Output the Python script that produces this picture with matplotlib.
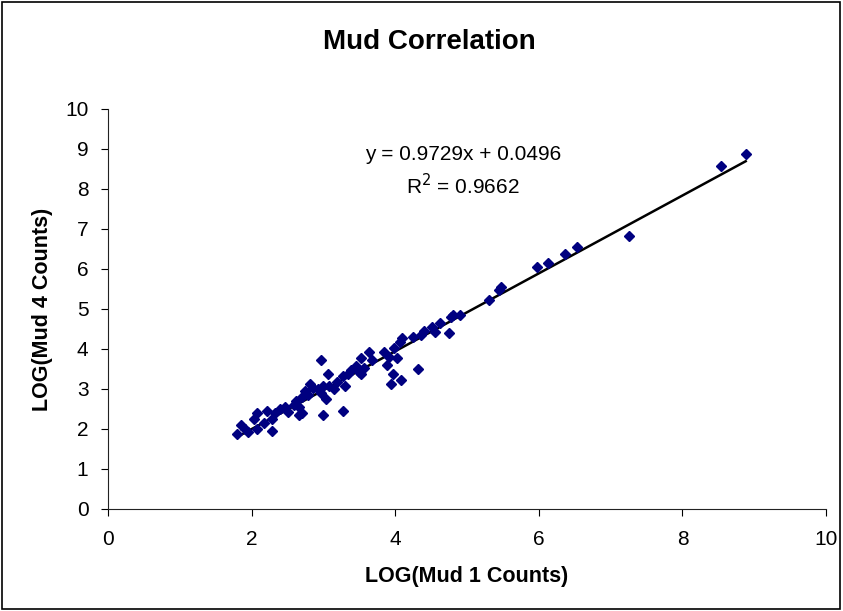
import matplotlib
matplotlib.use("Agg")
import matplotlib.pyplot as plt
from matplotlib.patches import Rectangle

plt.rcParams['font.family'] = ['Liberation Sans', 'DejaVu Sans']

# LOG(Mud 1 Counts) vs LOG(Mud 4 Counts)
mud1 = [1.80, 1.85, 1.91, 1.95, 2.04, 2.07, 2.07, 2.17, 2.21, 2.29,
        2.29, 2.32, 2.40, 2.47, 2.51, 2.59, 2.62, 2.66, 2.66, 2.70,
        2.70, 2.74, 2.78, 2.81, 2.85, 2.93, 2.96, 2.96, 3.00, 3.00,
        3.04, 3.06, 3.08, 3.15, 3.19, 3.27, 3.28, 3.30, 3.34, 3.38,
        3.45, 3.49, 3.53, 3.53, 3.57, 3.64, 3.68, 3.85, 3.88, 3.92,
        3.94, 3.97, 3.98, 4.02, 4.06, 4.08, 4.09, 4.25, 4.32, 4.36,
        4.40, 4.51, 4.55, 4.62, 4.75, 4.77, 4.81, 4.90, 5.30, 5.45,
        5.47, 5.98, 6.13, 6.36, 6.53, 7.26, 8.54, 8.88]
mud4 = [1.88, 2.11, 2.01, 1.93, 2.25, 2.40, 2.01, 2.16, 2.45, 1.96,
        2.25, 2.40, 2.50, 2.55, 2.42, 2.60, 2.69, 2.55, 2.35, 2.40,
        2.79, 2.94, 2.84, 3.13, 3.03, 2.99, 3.72, 2.89, 2.35, 3.08,
        2.74, 3.38, 3.08, 2.99, 3.18, 3.33, 2.45, 3.08, 3.38, 3.47,
        3.57, 3.42, 3.77, 3.38, 3.52, 3.93, 3.72, 3.93, 3.59, 3.79,
        3.13, 3.38, 4.01, 3.77, 4.16, 3.23, 4.27, 4.29, 3.49, 4.35,
        4.45, 4.55, 4.43, 4.64, 4.40, 4.79, 4.84, 4.84, 5.23, 5.47,
        5.55, 6.05, 6.15, 6.38, 6.55, 6.81, 8.57, 8.87]

slope = 0.9729
intercept = 0.0496
r2 = 0.9662

fig = plt.figure(figsize=(8.43, 6.11), dpi=100)
ax = fig.add_axes([0.128, 0.167, 0.852, 0.655])

ax.plot(mud1, mud4, linestyle='none', marker='D', ms=5,
        color='#000080', zorder=3)
xs = [min(mud1), max(mud1)]
ax.plot(xs, [slope * x + intercept for x in xs], color='black', lw=1.8, zorder=2)

ax.text(4.94, 8.85, 'y = %.4fx + %.4f' % (slope, intercept), ha='center',
        va='center', fontsize=15)
ax.text(4.94, 8.08, r'R$^2$ = %.4f' % r2, ha='center', va='center',
        fontsize=15)

ax.set_xlim(0, 10)
ax.set_ylim(0, 10)
ax.set_xticks(range(0, 11, 2))
ax.set_yticks(range(0, 11))
for s in ['top', 'right']:
    ax.spines[s].set_visible(False)
for s in ['left', 'bottom']:
    ax.spines[s].set_color('#222222')
ax.tick_params(direction='out', length=5, labelsize=15)
ax.tick_params(axis='x', pad=10)
ax.tick_params(axis='y', pad=9)

fig.text(0.509, 0.931, 'Mud Correlation', ha='center', va='center',
         fontsize=20, fontweight='bold')
fig.text(0.553, 0.056, 'LOG(Mud 1 Counts)', ha='center', va='center',
         fontsize=15.5, fontweight='bold')
fig.text(0.051, 0.493, 'LOG(Mud 4 Counts)', ha='center', va='center',
         fontsize=15.5, fontweight='bold', rotation=90)

fig.patches.append(Rectangle((0.002, 0.003), 0.994, 0.994, transform=fig.transFigure,
                             fill=False, edgecolor='black', lw=1.2))

fig.savefig('out.png', dpi=100)
